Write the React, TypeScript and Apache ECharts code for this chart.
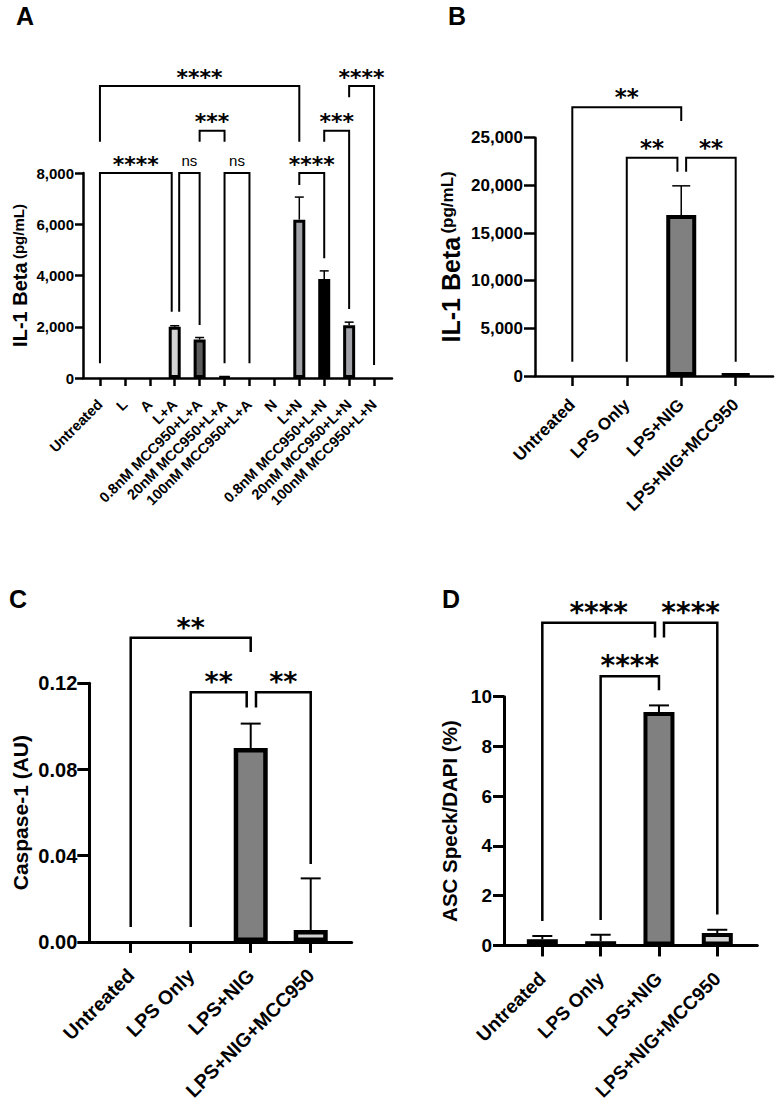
import React, { useEffect, useRef } from 'react';
import * as echarts from 'echarts';

// ---------- DATA ----------
const A_CATS = ['Untreated', 'L', 'A', 'L+A', '0.8nM MCC950+L+A', '20nM MCC950+L+A', '100nM MCC950+L+A', 'N', 'L+N', '0.8nM MCC950+L+N', '20nM MCC950+L+N', '100nM MCC950+L+N'];
const A_MEANS = [0, 0, 0, 2000, 1500, 50, 0, 0, 6180, 3860, 2060, 0];
const A_ERRS = [0, 0, 0, 40, 80, 0, 0, 0, 880, 320, 120, 0];
const A_COLORS = ['#ffffff', '#ffffff', '#ffffff', '#d4d4d4', '#5c5c5c', '#5c5c5c', '#ffffff', '#ffffff', '#a1a1a8', '#000000', '#a1a1a8', '#ffffff'];
const A_YMAX = 8000;
const A_YSTEP = 2000;
// brackets: [x1, x2, top, leftLegBottom, rightLegBottom]
const A_BRACKETS = [
  [0, 8, 11394, 9221, 9221],
  [4, 5, 9650, 9221, 9221],
  [10, 11, 11394, 10953, 507],
  [9, 10, 9650, 9221, 2692],
  [0, 2.88, 8000, 574, 2587],
  [3.18, 4, 8000, 2587, 2068],
  [5, 6, 8000, 574, 574],
  [8, 9, 8000, 7531, 4671],
];
const A_SIG = ['****', '***', '****', '***', '****', 'ns', 'ns', '****'];

const CATS = ['Untreated', 'LPS Only', 'LPS+NIG', 'LPS+NIG+MCC950'];

const B_MEANS = [0, 0, 16900, 200];
const B_ERRS = [0, 0, 3050, 0];
const B_COLORS = ['#ffffff', '#ffffff', '#808080', '#d4d4d4'];
const B_YMAX = 25000;
const B_YSTEP = 5000;
const B_BRACKETS = [
  [0, 2, 28187, 1500, 26750],
  [1, 1.93, 22900, 1500, 21431],
  [2.09, 3, 22900, 21431, 1500],
];
const B_SIG = ['**', '**', '**'];

const C_MEANS = [0, 0, 0.09, 0.0055];
const C_ERRS = [0, 0, 0.0113, 0.024];
const C_COLORS = ['#ffffff', '#ffffff', '#808080', '#d4d4d4'];
const C_YMAX = 0.12;
const C_YSTEP = 0.04;
const C_BRACKETS = [
  [0, 2, 0.1411, 0.0069, 0.1345],
  [1, 1.933, 0.1159, 0.0069, 0.1088],
  [2.088, 3, 0.1159, 0.1088, 0.0362],
];
const C_SIG = ['**', '**', '**'];

const D_MEANS = [0.25, 0.17, 9.38, 0.5];
const D_ERRS = [0.13, 0.26, 0.27, 0.13];
const D_COLORS = ['#000000', '#000000', '#808080', '#d4d4d4'];
const D_YMAX = 10;
const D_YSTEP = 2;
const D_BRACKETS = [
  [0, 1.932, 12.97, 0.98, 12.38],
  [2.086, 3, 12.97, 12.38, 1.24],
  [1, 2, 10.82, 1.02, 10.26],
];
const D_SIG = ['****', '****', '****'];

const FONT = 'Liberation Sans';

function buildPanel(k: number, p: any) {
  const n = p.cats.length;
  const idx = p.cats.map((_: string, i: number) => i);
  const grid = { left: p.left, top: p.top, width: p.width, height: p.height, containLabel: false };
  const xAxis = {
    type: 'value', gridIndex: k, min: p.xMin, max: n - 1 + p.xPad,
    axisLine: { show: true, onZero: false, lineStyle: { color: '#000', width: p.axisW } },
    axisTick: { show: true, customValues: idx, length: p.xTick, lineStyle: { color: '#000', width: p.axisW } },
    axisLabel: {
      show: true, customValues: idx, rotate: 45, margin: p.xMargin,
      formatter: (v: number) => p.cats[Math.round(v)] ?? '',
      color: '#000', fontFamily: FONT, fontWeight: 'bold', fontSize: p.xFont,
    },
    splitLine: { show: false },
  };
  const yAxis = {
    type: 'value', gridIndex: k, min: 0, max: p.yMax, interval: p.yStep,
    axisLine: { show: true, onZero: false, lineStyle: { color: '#000', width: p.axisW } },
    axisTick: { show: true, length: p.yTick, lineStyle: { color: '#000', width: p.axisW } },
    axisLabel: {
      margin: p.yMargin, color: '#000', fontFamily: FONT, fontWeight: 'bold', fontSize: p.yFont,
      formatter: p.yFmt,
    },
    splitLine: { show: false },
    name: p.yName, nameLocation: 'middle', nameRotate: 90, nameGap: p.nameGap,
    nameTextStyle: p.nameStyle,
  };
  const bar = {
    type: 'bar', xAxisIndex: k, yAxisIndex: k, barWidth: p.barW, z: 2,
    data: p.means.map((v: number, i: number) => ({
      value: [i, v],
      itemStyle: { color: p.colors[i], borderColor: '#000', borderWidth: v > 0 ? p.barBorder : 0 },
    })),
  };
  const err = {
    type: 'custom', xAxisIndex: k, yAxisIndex: k, z: 3, clip: false,
    data: p.means.map((v: number, i: number) => [i, v, p.errs[i]]),
    renderItem: (params: any, api: any) => {
      const i = api.value(0), m = api.value(1), e = api.value(2);
      if (!e) return null;
      const p0 = api.coord([i, m]);
      const p1 = api.coord([i, m + e]);
      const st = { stroke: '#000', lineWidth: p.errW };
      return {
        type: 'group', children: [
          { type: 'line', shape: { x1: p0[0], y1: p0[1], x2: p1[0], y2: p1[1] }, style: st },
          { type: 'line', shape: { x1: p1[0] - p.cap / 2, y1: p1[1], x2: p1[0] + p.cap / 2, y2: p1[1] }, style: st },
        ],
      };
    },
  };
  const brackets = {
    type: 'custom', xAxisIndex: k, yAxisIndex: k, z: 4, clip: false,
    data: p.brackets,
    renderItem: (params: any, api: any) => {
      const x1 = api.value(0), x2 = api.value(1), top = api.value(2), l1 = api.value(3), l2 = api.value(4);
      const a = api.coord([x1, l1]);
      const b = api.coord([x1, top]);
      const c = api.coord([x2, top]);
      const d = api.coord([x2, l2]);
      const label = p.sig[params.dataIndex];
      const isNs = label === 'ns';
      return {
        type: 'group', children: [
          { type: 'polyline', shape: { points: [a, b, c, d] }, style: { stroke: '#000', lineWidth: p.brW, fill: 'none', lineJoin: 'miter' } },
          {
            type: 'text', x: (b[0] + c[0]) / 2, y: b[1] - (isNs ? p.nsOff : p.sigOff),
            style: {
              text: label, fill: '#000',
              fontFamily: isNs ? FONT : 'DejaVu Sans', fontWeight: isNs ? 'normal' : 'bold',
              fontSize: isNs ? p.nsFont : p.sigFont,
              align: 'center', verticalAlign: 'middle', textAlign: 'center', textVerticalAlign: 'middle',
            },
          },
        ],
      };
    },
  };
  return { grid, xAxis, yAxis, series: [bar, err, brackets] };
}

const thousands = (v: number) => Math.round(v).toLocaleString('en-US');

export default function App() {
  const ref = useRef<HTMLDivElement>(null);
  useEffect(() => {
    if (!ref.current) return;
    const chart = echarts.init(ref.current, undefined, { renderer: 'svg' });
    const richName = (a: number, b: number, lift: number) => ({
      color: '#000',
      rich: {
        a: { fontFamily: FONT, fontWeight: 'bold', fontSize: a, color: '#000' },
        b: { fontFamily: FONT, fontWeight: 'bold', fontSize: b, color: '#000', padding: [0, 0, lift, 0] },
      },
    });
    const panels = [
      buildPanel(0, {
        cats: A_CATS, means: A_MEANS, errs: A_ERRS, colors: A_COLORS, brackets: A_BRACKETS, sig: A_SIG,
        left: 83, top: 173, width: 309, height: 205, xMin: -0.68, xPad: 0.72,
        yMax: A_YMAX, yStep: A_YSTEP, yFmt: thousands,
        axisW: 2.5, xTick: 8, yTick: 8, xMargin: 24, yMargin: 9, xFont: 14.5, yFont: 15,
        yName: '{a|IL-1 Beta} {b|(pg/mL)}', nameGap: 53,
        nameStyle: richName(20, 15, 4),
        barW: 12, barBorder: 3, errW: 1.5, cap: 9, brW: 2, sigFont: 22, sigOff: 9, nsFont: 15, nsOff: 13,
      }),
      buildPanel(1, {
        cats: CATS, means: B_MEANS, errs: B_ERRS, colors: B_COLORS, brackets: B_BRACKETS, sig: B_SIG,
        left: 535, top: 137.7, width: 238, height: 238.3, xMin: -0.685, xPad: 0.685,
        yMax: B_YMAX, yStep: B_YSTEP, yFmt: thousands,
        axisW: 2.5, xTick: 10, yTick: 11, xMargin: 26, yMargin: 12, xFont: 17, yFont: 17,
        yName: '{a|IL-1 Beta} {b|(pg/mL)}', nameGap: 72,
        nameStyle: richName(25, 17, 6),
        barW: 30, barBorder: 4, errW: 1.5, cap: 18, brW: 2, sigFont: 23, sigOff: 10, nsFont: 15, nsOff: 13,
      }),
      buildPanel(2, {
        cats: CATS, means: C_MEANS, errs: C_ERRS, colors: C_COLORS, brackets: C_BRACKETS, sig: C_SIG,
        left: 89.3, top: 683.3, width: 262.4, height: 261.7, xMin: -0.69, xPad: 0.683,
        yMax: C_YMAX, yStep: C_YSTEP, yFmt: (v: number) => v.toFixed(2),
        axisW: 3, xTick: 11, yTick: 12, xMargin: 30, yMargin: 12, xFont: 19.5, yFont: 20,
        yName: 'Caspase-1 (AU)', nameGap: 58,
        nameStyle: { color: '#000', fontFamily: FONT, fontWeight: 'bold', fontSize: 21 },
        barW: 34, barBorder: 4.5, errW: 2, cap: 20, brW: 2.5, sigFont: 27, sigOff: 10.6, nsFont: 15, nsOff: 13,
      }),
      buildPanel(3, {
        cats: CATS, means: D_MEANS, errs: D_ERRS, colors: D_COLORS, brackets: D_BRACKETS, sig: D_SIG,
        left: 504, top: 696.7, width: 253.3, height: 255, xMin: -0.657, xPad: 0.686,
        yMax: D_YMAX, yStep: D_YSTEP, yFmt: (v: number) => String(v),
        axisW: 3, xTick: 11, yTick: 11, xMargin: 30, yMargin: 12, xFont: 19, yFont: 19,
        yName: 'ASC Speck/DAPI (%)', nameGap: 44,
        nameStyle: { color: '#000', fontFamily: FONT, fontWeight: 'bold', fontSize: 20.5 },
        barW: 31, barBorder: 4, errW: 2, cap: 20, brW: 2.5, sigFont: 28, sigOff: 10.7, nsFont: 15, nsOff: 13,
      }),
    ];
    const letters = [
      { t: 'A', x: 16, y: 3 },
      { t: 'B', x: 448, y: 3 },
      { t: 'C', x: 9, y: 586 },
      { t: 'D', x: 442, y: 586 },
    ];
    chart.setOption({
      animation: false,
      backgroundColor: '#ffffff',
      textStyle: { fontFamily: FONT },
      grid: panels.map((p) => p.grid),
      xAxis: panels.map((p) => p.xAxis),
      yAxis: panels.map((p) => p.yAxis),
      series: panels.flatMap((p) => p.series),
      graphic: letters.map((l) => ({
        type: 'text', left: l.x, top: l.y,
        style: { text: l.t, fill: '#000', fontFamily: FONT, fontWeight: 'bold', fontSize: 25 },
      })),
    });
    return () => chart.dispose();
  }, []);
  return <div ref={ref} style={{ position: 'fixed', left: 0, top: 0, width: 778, height: 1103, background: '#fff' }} />;
}
